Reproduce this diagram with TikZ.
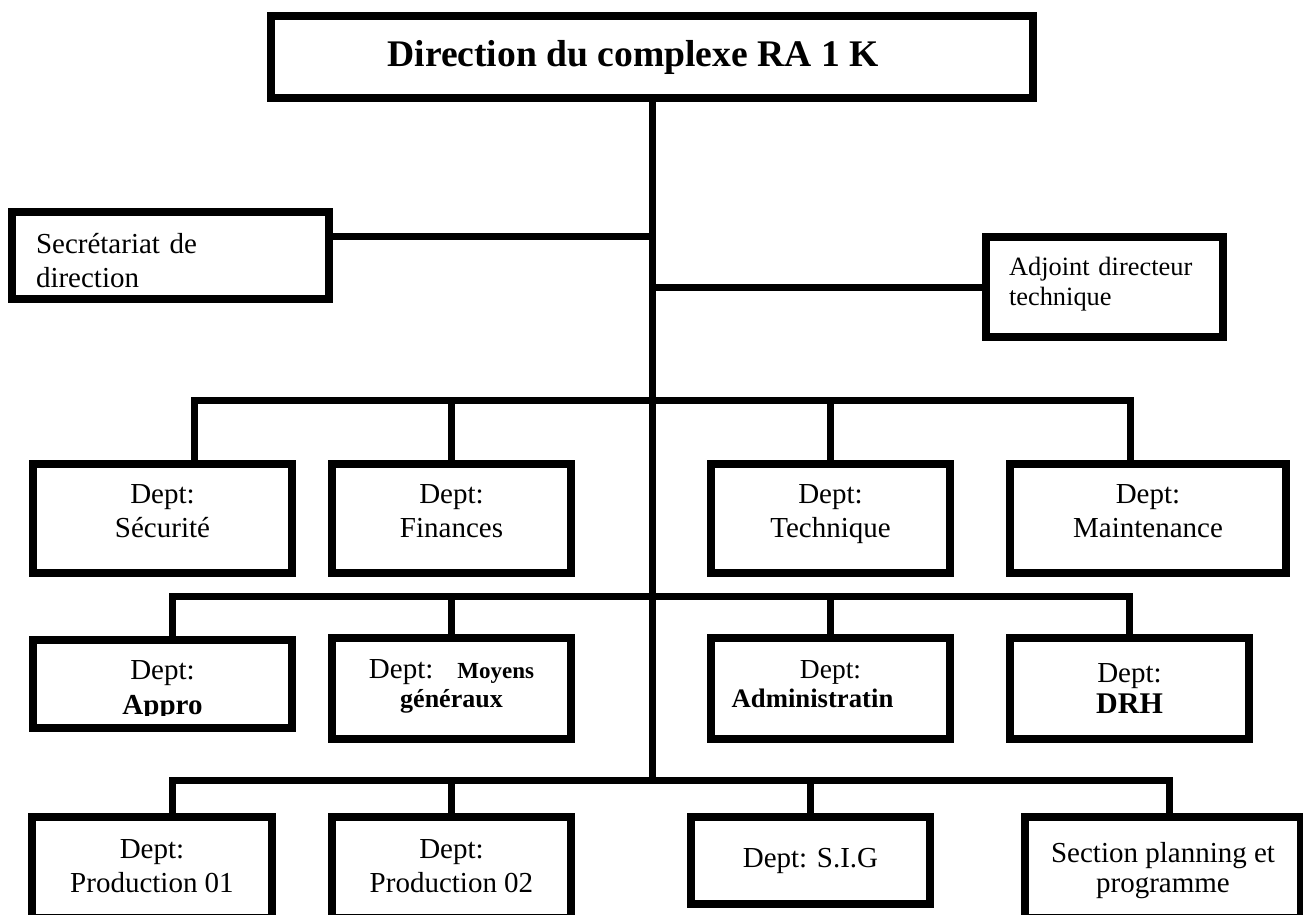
\documentclass[tikz,border=0pt]{standalone}
\usepackage{fontspec}
\setmainfont{Liberation Serif}
\tikzset{
  unit/.style={draw, line width=8pt, inner sep=0pt, align=center, font=\fontsize{29}{34}\selectfont},
  link/.style={line width=7pt, line join=miter},
}
\begin{document}
\begin{tikzpicture}[x=1pt, y=-1pt]
  \clip (0,0) rectangle (1303,915);
  \node[unit, minimum width=762pt, minimum height=82pt, font=\fontsize{37.6}{44}\selectfont\bfseries] (dir) at (652,57) {Direction du complexe RA 1 K\hspace*{38pt}};
  \node[unit, align=left, text width=269pt, inner xsep=24pt, minimum width=317pt, minimum height=87pt, text depth=25pt] (secr) at (170.5,255.5) {Secrétariat de\\direction};
  \node[unit, align=left, text width=191pt, inner xsep=23pt, minimum width=237pt, minimum height=100pt, text depth=42pt, font=\fontsize{26.4}{30}\selectfont] (adj) at (1104.5,287) {Adjoint directeur\\technique};

  \node[unit, minimum width=259pt, minimum height=109pt, text depth=14pt] (secu) at (162.5,518.5) {Dept:\\Sécurité};
  \node[unit, minimum width=239pt, minimum height=109pt, text depth=14pt] (fin) at (451.5,518.5) {Dept:\\Finances};
  \node[unit, minimum width=239pt, minimum height=109pt, text depth=14pt] (tech) at (830.5,518.5) {Dept:\\Technique};
  \node[unit, minimum width=276pt, minimum height=109pt, text depth=14pt] (maint) at (1148,518.5) {Dept:\\Maintenance};

  \node[unit, minimum width=259pt, minimum height=88pt, text height=68pt] (appro) at (162.5,684) {Dept:\\[1pt]{\bfseries Appro}};
  \fill[white] (37,716) rectangle (288,724);
  \node[unit, minimum width=239pt, minimum height=101pt, text depth=11pt] (moy) at (451.5,688.5) {Dept:\hspace{24pt}{\fontsize{23}{28}\selectfont\bfseries Moyens}\\[-5pt]{\fontsize{26}{30}\selectfont\bfseries généraux}};
  \node[unit, minimum width=239pt, minimum height=101pt, text depth=10pt] (admin) at (830.5,688.5) {{\fontsize{27.5}{33}\selectfont Dept:}\\[-5pt]{\fontsize{26.7}{32}\selectfont\bfseries Administratin}\hspace*{36pt}};
  \node[unit, minimum width=239pt, minimum height=101pt, text depth=1pt] (drh) at (1129.5,688.5) {Dept:\\[-3pt]{\fontsize{30}{36}\selectfont\bfseries DRH}};

  \node[unit, minimum width=240pt, minimum height=101pt, text depth=4pt] (p01) at (152,867.5) {Dept:\\Production 01};
  \node[unit, minimum width=239pt, minimum height=101pt, text depth=4pt] (p02) at (451.5,867.5) {Dept:\\Production 02};
  \node[unit, minimum width=239pt, minimum height=87pt] (sig) at (810.5,860.5) {Dept: S.I.G};
  \node[unit, minimum width=276pt, minimum height=101pt, text height=57pt] (sect) at (1163,867.5) {Section planning et\\[-4pt]programme};

  \coordinate (bus1) at (652,400);
  \coordinate (bus2) at (652,596);
  \coordinate (bus3) at (652,780);

  \draw[link] (dir.south) -- (bus3);
  \draw[link] (secr.east |- 0,236) -- (dir.south |- 0,236);
  \draw[link] (adj.west -| dir.south) -- (adj.west);

  \draw[link] (secu.north -| 194,0) |- (1130,400) -- (maint.north -| 1130,0);
  \draw[link] (fin.north |- bus1) -- (fin.north);
  \draw[link] (tech.north |- bus1) -- (tech.north);

  \draw[link] (appro.north -| 172,0) |- (drh.north |- bus2) -- (drh.north);
  \draw[link] (moy.north |- bus2) -- (moy.north);
  \draw[link] (admin.north |- bus2) -- (admin.north);

  \draw[link] (p01.north -| 172,0) |- (1169,780) -- (sect.north -| 1169,0);
  \draw[link] (p02.north |- bus3) -- (p02.north);
  \draw[link] (sig.north |- bus3) -- (sig.north);
\end{tikzpicture}
\end{document}
